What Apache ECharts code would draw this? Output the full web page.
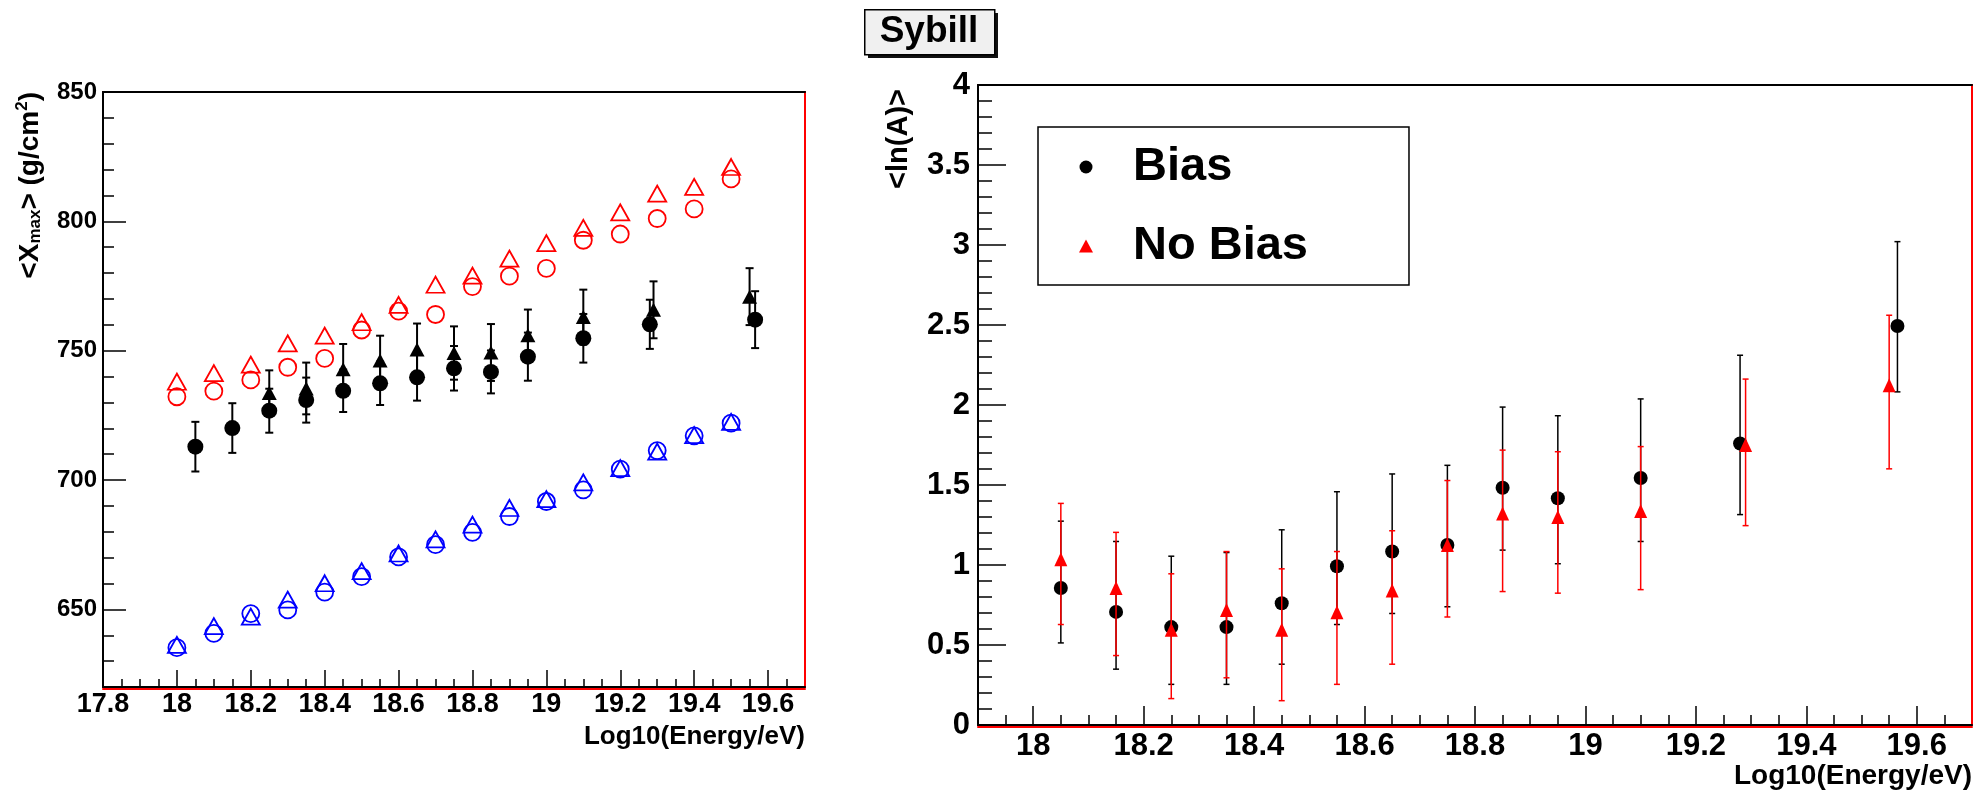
<!DOCTYPE html>
<html><head><meta charset="utf-8">
<script src="https://cdn.jsdelivr.net/npm/echarts@6/dist/echarts.min.js"></script>
<style>html,body{margin:0;padding:0;background:#fff}#c{width:1982px;height:795px}</style>
</head><body><div id="c"></div>
<script>
// ---------- Left panel: <Xmax> vs energy ----------
const energyGrid = [18.0,18.1,18.2,18.3,18.4,18.5,18.6,18.7,18.8,18.9,19.0,19.1,19.2,19.3,19.4,19.5];
const redTriangles = [738.0,741.3,744.6,752.8,755.8,761.0,767.7,775.5,779.0,785.6,791.6,797.5,803.5,810.7,813.3,821.0];
const redCircles   = [732.2,734.4,738.7,743.6,747.0,758.0,765.3,764.0,774.8,778.8,781.8,792.7,795.1,801.1,804.8,816.4];
const blueTriangles= [636.3,643.5,647.2,653.8,660.1,664.8,671.6,677.1,682.8,689.2,692.6,699.1,704.6,711.0,717.4,722.5];
const blueCircles  = [635.2,640.7,648.4,649.8,656.7,662.7,670.3,675.0,679.8,685.9,691.7,696.2,704.2,711.4,717.1,722.0];

const blackCircleE   = [18.05,18.15,18.25,18.35,18.45,18.55,18.65,18.75,18.85,18.95,19.1,19.28,19.565];
const blackCircleX   = [712.9,720.1,726.8,730.9,734.5,737.4,739.7,743.2,741.8,747.7,754.8,760.2,762.0];
const blackCircleErr = [9.6,9.6,8.5,8.7,8.2,8.4,9.0,8.6,8.3,9.3,9.4,9.5,11.0];
const blackTriE      = [18.25,18.35,18.45,18.55,18.65,18.75,18.85,18.95,19.1,19.29,19.55];
const blackTriX      = [733.6,735.4,742.8,746.2,750.5,749.1,749.3,756.0,763.0,765.8,770.9];
const blackTriErr    = [8.8,10.0,9.8,9.6,10.0,10.3,11.0,9.9,10.6,11.0,11.0];

const leftXTicks = [17.8,18,18.2,18.4,18.6,18.8,19,19.2,19.4,19.6];
const leftYTicks = [650,700,750,800,850];

// ---------- Right panel: <ln(A)> vs energy ----------
const biasE  = [18.05,18.15,18.25,18.35,18.45,18.55,18.65,18.75,18.85,18.95,19.1,19.28,19.565];
const biasV  = [0.856,0.707,0.612,0.612,0.761,0.992,1.084,1.125,1.483,1.417,1.544,1.759,2.494];
const biasLo = [0.513,0.349,0.254,0.254,0.380,0.628,0.697,0.739,1.093,1.008,1.147,1.315,2.082];
const biasHi = [1.274,1.147,1.055,1.078,1.220,1.458,1.569,1.623,1.987,1.933,2.038,2.311,3.021];
const noBiasE  = [18.05,18.15,18.25,18.35,18.45,18.55,18.65,18.75,18.85,18.95,19.1,19.29,19.55];
const noBiasV  = [1.036,0.856,0.596,0.719,0.596,0.704,0.840,1.125,1.322,1.300,1.338,1.750,2.124];
const noBiasLo = [0.628,0.434,0.165,0.295,0.152,0.254,0.380,0.675,0.834,0.824,0.846,1.246,1.601];
const noBiasHi = [1.385,1.204,0.945,1.084,0.976,1.084,1.214,1.528,1.718,1.708,1.740,2.162,2.561];

const rightXTicks = [18,18.2,18.4,18.6,18.8,19,19.2,19.4,19.6];
const rightYTicks = [0,0.5,1,1.5,2,2.5,3,3.5,4];

const FONT = 'Liberation Sans, Arial, Helvetica, sans-serif';
const RED = '#ff0000', BLUE = '#0000ff', BLK = '#000000';

function minorTicks(min, max, step, majors) {
  const out = [];
  const n = Math.round((max - min) / step);
  for (let k = 1; k < n; k++) {
    const v = +(min + k * step).toFixed(4);
    if (!majors.some(m => Math.abs(m - v) < 1e-6)) out.push(v);
  }
  return out;
}
const zip = (a, b) => a.map((v, i) => [v, b[i]]);

const xAxes = [], yAxes = [];
function addPanel(g, cfg) {
  const base = xAxes.length, ybase = yAxes.length;
  xAxes.push({type:'value', gridIndex:g, min:cfg.xmin, max:cfg.xmax, position:'bottom',
    axisLine:{show:true, onZero:false, lineStyle:{color:BLK, width:2}},
    axisTick:{show:true, inside:true, length:cfg.xMajLen, customValues:cfg.xTicks, lineStyle:{color:BLK, width:1.5}},
    axisLabel:{show:true, customValues:cfg.xTicks, margin:cfg.xLabMargin, color:BLK, fontFamily:FONT, fontWeight:'bold', fontSize:cfg.xLabSize,
      formatter: v => String(+v.toFixed(1))},
    splitLine:{show:false},
    name:'Log10(Energy/eV)', nameLocation:'end', nameGap:0,
    nameTextStyle:{align:'right', verticalAlign:'top', padding:[cfg.xNamePad,0,0,0], color:BLK, fontFamily:FONT, fontWeight:'bold', fontSize:cfg.xNameSize}
  });
  xAxes.push({type:'value', gridIndex:g, min:cfg.xmin, max:cfg.xmax, position:'bottom',
    axisLine:{show:false, onZero:false}, axisLabel:{show:false}, splitLine:{show:false},
    axisTick:{show:true, inside:true, length:cfg.xMinLen, customValues:minorTicks(cfg.xmin, cfg.xmax, cfg.xMinStep, cfg.xTicks), lineStyle:{color:BLK, width:1.5}}
  });
  xAxes.push({type:'value', gridIndex:g, min:cfg.xmin, max:cfg.xmax, position:'bottom', offset:2,
    axisLine:{show:true, onZero:false, lineStyle:{color:RED, width:2}}, axisLabel:{show:false}, axisTick:{show:false}, splitLine:{show:false}});
  xAxes.push({type:'value', gridIndex:g, min:cfg.xmin, max:cfg.xmax, position:'top',
    axisLine:{show:true, onZero:false, lineStyle:{color:BLK, width:2}}, axisLabel:{show:false}, axisTick:{show:false}, splitLine:{show:false}});
  yAxes.push({type:'value', gridIndex:g, min:cfg.ymin, max:cfg.ymax, position:'left',
    axisLine:{show:true, onZero:false, lineStyle:{color:BLK, width:2}},
    axisTick:{show:true, inside:true, length:cfg.yMajLen, customValues:cfg.yTicks, lineStyle:{color:BLK, width:1.5}},
    axisLabel:{show:true, customValues:cfg.yTicks, margin:cfg.yLabMargin, color:BLK, fontFamily:FONT, fontWeight:'bold', fontSize:cfg.yLabSize},
    splitLine:{show:false}
  });
  yAxes.push({type:'value', gridIndex:g, min:cfg.ymin, max:cfg.ymax, position:'left',
    axisLine:{show:false, onZero:false}, axisLabel:{show:false}, splitLine:{show:false},
    axisTick:{show:true, inside:true, length:cfg.yMinLen, customValues:minorTicks(cfg.ymin, cfg.ymax, cfg.yMinStep, cfg.yTicks), lineStyle:{color:BLK, width:1.5}}
  });
  return {x:base, y:ybase};
}

const L = addPanel(0, {xmin:17.8, xmax:19.7, ymin:620, ymax:850, xTicks:leftXTicks, yTicks:leftYTicks,
  xMajLen:17, xMinLen:8, yMajLen:23, yMinLen:11, xMinStep:0.05, yMinStep:10,
  xLabMargin:4, xLabSize:27, yLabMargin:6, yLabSize:24, xNamePad:37, xNameSize:26});
const R = addPanel(1, {xmin:17.9, xmax:19.7, ymin:0, ymax:4, xTicks:rightXTicks, yTicks:rightYTicks,
  xMajLen:19, xMinLen:10, yMajLen:28, yMinLen:14, xMinStep:0.05, yMinStep:0.1,
  xLabMargin:6, xLabSize:31, yLabMargin:8, yLabSize:31, xNamePad:37, xNameSize:28});

function errBars(color, width, halfCap) {
  return function (params, api) {
    const x = api.value(0), lo = api.value(1), hi = api.value(2);
    const a = api.coord([x, lo]), b = api.coord([x, hi]);
    const st = {stroke:color, lineWidth:width, fill:null};
    return {type:'group', children:[
      {type:'line', shape:{x1:a[0], y1:a[1], x2:b[0], y2:b[1]}, style:st},
      {type:'line', shape:{x1:a[0]-halfCap, y1:a[1], x2:a[0]+halfCap, y2:a[1]}, style:st},
      {type:'line', shape:{x1:b[0]-halfCap, y1:b[1], x2:b[0]+halfCap, y2:b[1]}, style:st}
    ]};
  };
}
function openScatter(name, xs, ys, sym, size, color, ax) {
  return {name, type:'scatter', xAxisIndex:ax.x, yAxisIndex:ax.y, data:zip(xs, ys), symbol:sym, symbolSize:size,
    itemStyle:{color:'rgba(0,0,0,0)', borderColor:color, borderWidth:1.8, opacity:1}, z:3};
}
function filledScatter(name, xs, ys, sym, size, color, ax, z) {
  return {name, type:'scatter', xAxisIndex:ax.x, yAxisIndex:ax.y, data:zip(xs, ys), symbol:sym, symbolSize:size,
    itemStyle:{color, opacity:1}, z:z || 4};
}

const series = [
  openScatter('Red triangles', energyGrid, redTriangles, 'triangle', [18,16], RED, L),
  openScatter('Red circles', energyGrid, redCircles, 'circle', 17, RED, L),
  openScatter('Blue triangles', energyGrid, blueTriangles, 'triangle', [18,16], BLUE, L),
  openScatter('Blue circles', energyGrid, blueCircles, 'circle', 17, BLUE, L),
  {name:'Black triangles err', type:'custom', xAxisIndex:L.x, yAxisIndex:L.y, renderItem:errBars(BLK, 2, 4),
    encode:{x:0, y:[1,2]}, data:blackTriE.map((e,i)=>[e, blackTriX[i]-blackTriErr[i], blackTriX[i]+blackTriErr[i]]), z:2},
  {name:'Black circles err', type:'custom', xAxisIndex:L.x, yAxisIndex:L.y, renderItem:errBars(BLK, 2, 4),
    encode:{x:0, y:[1,2]}, data:blackCircleE.map((e,i)=>[e, blackCircleX[i]-blackCircleErr[i], blackCircleX[i]+blackCircleErr[i]]), z:2},
  filledScatter('Black triangles', blackTriE, blackTriX, 'triangle', [15,14], BLK, L),
  filledScatter('Black circles', blackCircleE, blackCircleX, 'circle', 16, BLK, L, 5),

  {name:'Bias err', type:'custom', xAxisIndex:R.x, yAxisIndex:R.y, renderItem:errBars(BLK, 1.5, 3),
    encode:{x:0, y:[1,2]}, data:biasE.map((e,i)=>[e, biasLo[i], biasHi[i]]), z:2},
  filledScatter('Bias', biasE, biasV, 'circle', 14, BLK, R, 4),
  {name:'No Bias err', type:'custom', xAxisIndex:R.x, yAxisIndex:R.y, renderItem:errBars(RED, 1.5, 3),
    encode:{x:0, y:[1,2]}, data:noBiasE.map((e,i)=>[e, noBiasLo[i], noBiasHi[i]]), z:5},
  filledScatter('No Bias', noBiasE, noBiasV, 'triangle', [13,14], RED, R, 6)
];

const chart = echarts.init(document.getElementById('c'), null, {renderer:'canvas'});
chart.setOption({
  animation:false,
  backgroundColor:'#ffffff',
  grid:[
    {left:103, top:92, width:702, height:595, show:true, borderColor:RED, borderWidth:2, backgroundColor:'#fff'},
    {left:978, top:85, width:994, height:640, show:true, borderColor:RED, borderWidth:2, backgroundColor:'#fff'}
  ],
  xAxis:xAxes,
  yAxis:yAxes,
  legend:{
    left:1038, top:127, orient:'vertical', selectedMode:false,
    data:[{name:'Bias', icon:'circle'}, {name:'No Bias', icon:'triangle'}],
    itemWidth:14, itemHeight:13, itemGap:29,
    padding:[15,101,14,41],
    backgroundColor:'#fff', borderColor:BLK, borderWidth:1.5, borderRadius:0,
    textStyle:{color:BLK, fontFamily:FONT, fontWeight:'bold', fontSize:47, lineHeight:50, padding:[0,0,0,35]}
  },
  graphic:[
    {type:'rect', left:868, top:13, shape:{width:130, height:45}, style:{fill:'#111'}, z:10},
    {type:'rect', left:864, top:9, shape:{width:130, height:45}, style:{fill:'#f0f0f0', stroke:BLK, lineWidth:1.5}, z:11},
    {type:'text', x:929, y:32, style:{text:'Sybill', align:'center', verticalAlign:'middle', fill:BLK, font:'bold 37px ' + FONT}, z:12},
    {type:'text', x:30, y:92, rotation:Math.PI/2,
      style:{text:'{a|<X}{s|max}{a|> (g/cm}{p|2}{a|)}', align:'right', verticalAlign:'middle',
        rich:{
          a:{fontFamily:FONT, fontWeight:'bold', fontSize:28, fill:BLK, color:BLK, lineHeight:36, verticalAlign:'middle'},
          s:{fontFamily:FONT, fontWeight:'bold', fontSize:17, fill:BLK, color:BLK, lineHeight:36, verticalAlign:'bottom', padding:[0,0,4,0]},
          p:{fontFamily:FONT, fontWeight:'bold', fontSize:17, fill:BLK, color:BLK, lineHeight:36, verticalAlign:'top', padding:[2,0,0,0]}
        }}, z:12},
    {type:'text', x:899, y:89, rotation:Math.PI/2,
      style:{text:'<ln(A)>', align:'right', verticalAlign:'middle', fill:BLK, font:'bold 29px ' + FONT}, z:12}
  ],
  series
});
</script></body></html>
